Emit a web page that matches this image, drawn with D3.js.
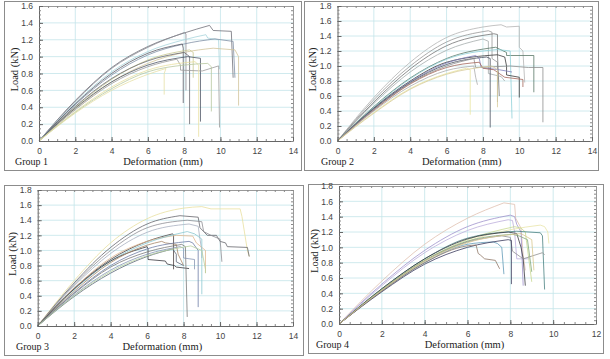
<!DOCTYPE html>
<html lang="en">
  <head>
    <meta charset="utf-8">
    <title>Load vs Deformation by Group</title>
    <script src="https://d3js.org/d3.v7.min.js"></script>
    <style>
      body { margin: 0; background: #fff; }
      .tick text { font-family: "Liberation Sans", Arial, sans-serif; font-size: 8.5px; fill: #444; }
      .title { font-family: "Liberation Serif", "Times New Roman", serif; font-size: 10.5px; fill: #222; }
    </style>
  </head>
  <body>
    <script type="text/javascript">
      var w = 610;
      var h = 359;

      // tick labels
      var xTicks14 = [0, 2, 4, 6, 8, 10, 12, 14];
      var xTicks12 = [0, 2, 4, 6, 8, 10, 12];
      var yTicks16 = [0, 0.2, 0.4, 0.6, 0.8, 1.0, 1.2, 1.4, 1.6];
      var yTicks18 = [0, 0.2, 0.4, 0.6, 0.8, 1.0, 1.2, 1.4, 1.6, 1.8];
      var groupNames = ["Group 1", "Group 2", "Group 3", "Group 4"];

      // specimens: [deformation (mm), load (kN)]
      var group1 = [
        [[0,0],[2,0.48],[4,0.87],[6,1.12],[8,1.28],[9.4,1.37],[9.6,1.31],[10.6,1.30],[10.7,0.75]],
        [[0,0],[2,0.47],[4,0.86],[6,1.11],[8.0,1.285],[8.1,1.27],[8.1,0.60]],
        [[0,0],[2,0.45],[4,0.82],[6,1.06],[8,1.20],[9.2,1.26],[9.3,1.22],[9.9,1.20],[9.95,0.85]],
        [[0,0],[2,0.43],[4,0.78],[6,1.02],[8,1.15],[9.7,1.21],[10.7,1.18],[10.8,0.75]],
        [[0,0],[2,0.44],[4,0.80],[6,1.04],[7.9,1.15],[7.95,1.10],[7.95,0.45]],
        [[0,0],[2,0.38],[4,0.70],[6,0.92],[8,1.05],[9.6,1.10],[10.8,1.08],[11.0,1.00],[11.0,0.42]],
        [[0,0],[2,0.40],[4,0.73],[6,0.96],[8.3,1.08],[8.5,1.05],[8.5,0.75]],
        [[0,0],[2,0.41],[4,0.74],[6,0.95],[8.0,1.05],[8.3,1.00],[8.3,0.20]],
        [[0,0],[2,0.39],[4,0.70],[6,0.90],[8.2,1.00],[8.9,0.98],[8.9,0.23]],
        [[0,0],[2,0.37],[4,0.68],[6,0.88],[7.6,0.97],[7.8,0.90],[7.8,0.84],[9.0,0.83],[9.9,0.89],[9.95,0.16]],
        [[0,0],[2,0.35],[4,0.64],[6,0.84],[8.6,0.94],[8.8,0.90],[8.8,0.05]],
        [[0,0],[2,0.34],[4,0.62],[6,0.82],[8,0.90],[9.3,0.92],[9.5,0.88],[9.5,0.35]],
        [[0,0],[2,0.33],[4,0.60],[6,0.79],[7.0,0.86],[6.9,0.80],[6.9,0.55]]
      ];
      var group2 = [
        [[0,0],[2,0.58],[4,1.05],[6,1.38],[8,1.52],[9.0,1.55],[9.3,1.52],[10.0,1.53],[10.0,1.25],[10.2,1.20],[10.3,0.78]],
        [[0,0],[2,0.55],[4,1.00],[6,1.32],[8.3,1.47],[8.5,1.45],[8.5,1.10],[8.8,1.05],[8.8,0.52]],
        [[0,0],[2,0.52],[4,0.96],[6,1.27],[8.6,1.43],[8.8,1.42],[8.8,1.15],[8.9,0.60]],
        [[0,0],[2,0.50],[4,0.92],[6,1.21],[8.0,1.36],[8.3,1.33],[8.3,0.90],[9.0,0.86],[9.2,0.80]],
        [[0,0],[2,0.46],[4,0.84],[6,1.10],[8.7,1.25],[9.3,1.18],[9.3,1.14],[10.8,1.14],[10.8,0.65]],
        [[0,0],[2,0.45],[4,0.83],[6,1.09],[8.8,1.22],[9.5,1.20],[9.6,0.30]],
        [[0,0],[2,0.44],[4,0.80],[6,1.05],[8.8,1.15],[9.2,1.12],[9.3,1.00],[9.3,0.88],[10.0,0.85],[10.0,0.58]],
        [[0,0],[2,0.43],[4,0.79],[6,1.04],[7.6,1.14],[7.8,1.10],[7.9,0.98],[8.9,0.95],[9.6,0.92]],
        [[0,0],[2,0.43],[4,0.78],[6,1.02],[8.2,1.12],[8.4,1.10],[8.4,0.18]],
        [[0,0],[2,0.42],[4,0.77],[6,1.00],[7.5,1.10],[7.6,0.98],[9.5,1.00],[10.5,0.98],[11.3,0.98],[11.3,0.25]],
        [[0,0],[2,0.41],[4,0.76],[6,0.98],[7.8,1.05],[8.0,0.97],[8.6,0.95],[9.2,0.85],[10.2,0.82],[10.2,0.72]],
        [[0,0],[2,0.38],[4,0.70],[6,0.90],[7.1,0.97],[7.3,0.95],[7.3,0.35]],
        [[0,0],[2,0.40],[4,0.73],[6,0.94],[7.5,1.00],[7.6,0.85],[7.7,0.75]],
        [[0,0],[2,0.37],[4,0.69],[6,0.89],[8.5,1.00],[8.8,0.95],[8.8,0.45]]
      ];
      var group3 = [
        [[0,0],[2,0.60],[4,1.10],[6,1.42],[8,1.56],[9.0,1.58],[9.5,1.55],[11.1,1.55],[11.2,1.45],[11.5,1.00],[11.6,0.92]],
        [[0,0],[2,0.57],[4,1.04],[6,1.35],[7.8,1.46],[8.8,1.44],[8.9,1.30],[9.3,1.20],[9.8,1.20],[10.0,1.12],[10.3,1.10],[10.4,1.05],[11.5,1.04],[11.6,0.92]],
        [[0,0],[2,0.55],[4,1.00],[6,1.30],[8.2,1.40],[9.0,1.38],[9.1,1.25],[9.5,1.20],[10.0,1.15],[10.1,0.85]],
        [[0,0],[2,0.53],[4,0.96],[6,1.24],[8.3,1.35],[8.8,1.32],[8.9,1.15],[9.0,1.00],[9.0,0.90]],
        [[0,0],[2,0.50],[4,0.88],[6,1.12],[7.4,1.22],[7.45,1.20],[7.45,0.75]],
        [[0,0],[2,0.50],[4,0.90],[6,1.12],[7.6,1.20],[8.5,1.19],[8.7,1.10],[9.2,1.00],[9.2,0.70]],
        [[0,0],[2,0.48],[4,0.86],[6,1.10],[8.2,1.25],[8.6,1.22],[9.0,1.15],[9.0,0.42]],
        [[0,0],[2,0.49],[4,0.86],[6.0,1.05],[6.05,1.02],[6.05,0.88],[7.0,0.86],[7.1,0.82],[7.5,0.80],[7.6,0.78],[8.3,0.76]],
        [[0,0],[2,0.46],[4,0.84],[6,1.07],[6.8,1.12],[7.0,1.10],[7.6,1.08],[7.7,0.95],[8.0,0.80]],
        [[0,0],[2,0.44],[4,0.80],[6,1.02],[8.3,1.12],[8.5,1.10],[8.8,1.00],[8.8,0.25]],
        [[0,0],[2,0.43],[4,0.78],[6,0.98],[7.9,1.08],[8.1,1.05],[8.2,0.12]],
        [[0,0],[2,0.41],[4,0.74],[6,0.95],[7.8,1.05],[8.0,1.03],[8.0,0.90],[8.6,0.88],[8.6,0.75]],
        [[0,0],[2,0.39],[4,0.70],[6,0.92],[7.4,1.02],[7.6,0.95],[7.6,0.85],[8.0,0.80]],
        [[0,0],[2,0.40],[4,0.72],[6,0.93],[8.4,1.06],[9.0,1.00],[9.2,0.75],[9.2,0.70]]
      ];
      var group4 = [
        [[0,0],[2,0.56],[4,1.04],[6,1.38],[7.7,1.58],[8.2,1.56],[8.25,1.38],[8.5,1.25],[8.6,0.90],[8.7,0.70]],
        [[0,0],[2,0.52],[4,0.96],[6,1.27],[8.0,1.42],[8.2,1.40],[8.3,1.30],[8.5,1.20],[8.6,0.50]],
        [[0,0],[2,0.50],[4,0.93],[6,1.22],[7.9,1.36],[8.1,1.35],[8.2,1.20],[8.3,0.85],[8.9,0.85]],
        [[0,0],[2,0.44],[4,0.82],[6,1.08],[8,1.23],[9.4,1.29],[9.6,1.27],[9.75,1.20],[9.8,1.05]],
        [[0,0],[2,0.45],[4,0.83],[6,1.10],[8.2,1.27],[8.5,1.25],[8.7,1.20],[9.0,0.55]],
        [[0,0],[2,0.46],[4,0.85],[6,1.12],[8.3,1.21],[9.4,1.19],[9.5,1.15],[9.6,0.45]],
        [[0,0],[2,0.46],[4,0.85],[6,1.11],[7.9,1.20],[8.3,1.18],[8.5,1.00],[8.6,0.85],[8.7,0.50]],
        [[0,0],[2,0.45],[4,0.83],[6,1.08],[8.1,1.17],[8.4,1.15],[8.8,1.10],[9.0,0.68]],
        [[0,0],[2,0.44],[4,0.82],[6,1.07],[7.6,1.15],[8.0,1.13],[8.1,0.95],[8.6,0.85],[9.5,0.93],[9.6,0.90]],
        [[0,0],[2,0.43],[4,0.80],[6,1.04],[7.2,1.07],[7.4,1.05],[7.6,1.00],[7.7,0.65]],
        [[0,0],[2,0.42],[4,0.78],[6,1.00],[7.9,1.10],[8.05,1.09],[8.05,0.52]],
        [[0,0],[2,0.43],[4,0.80],[6,1.02],[6.4,1.03],[6.5,0.92],[6.6,0.90],[6.8,0.85],[7.3,0.83],[7.5,0.72]],
        [[0,0],[2,0.44],[4,0.82],[6,1.06],[8.5,1.18],[9.0,1.10],[9.1,0.70]]
      ];

      // line colours per specimen
      var colors1 = ["#707078","#8c8c94","#a8d4dc","#8290a6","#5a5a64","#d2c49a","#c8c890","#68686e","#4e5666","#9a9a9a","#e8e0a0","#b8c8a0","#e6dfa6"];
      var colors2 = ["#b4b4b4","#979797","#747474","#a4acac","#5a7868","#8fd0d8","#3a3a3a","#8080bc","#4a5060","#8e8e8e","#a4665a","#e8e4a0","#acacac","#d8cc9c"];
      var colors3 = ["#e8e0a0","#66666c","#8e8e94","#a8b0c0","#4a4040","#e0b890","#8cc8d0","#38383f","#a88868","#6e7ea6","#7a7a7a","#8696b4","#5c6678","#b8d0a0"];
      var colors4 = ["#e0c0b0","#a092cc","#bcaedc","#e8e4a8","#c8d890","#4a8282","#38383f","#84a878","#909090","#629ab8","#3a3a5c","#907868","#d8c890"];

      var panels = [
        {box: [4, 1, 301, 170], plot: [39, 6, 293, 141], xTicks: xTicks14, yTicks: yTicks16, data: group1, colors: colors1, groupX: 15},
        {box: [304, 1, 598, 170], plot: [337.5, 6, 592, 141], xTicks: xTicks14, yTicks: yTicks18, data: group2, colors: colors2, groupX: 321},
        {box: [4, 185, 303, 355], plot: [37.7, 190, 293, 326], xTicks: xTicks14, yTicks: yTicks18, data: group3, colors: colors3, groupX: 16},
        {box: [308, 184, 603, 353], plot: [339, 186, 596, 324], xTicks: xTicks12, yTicks: yTicks18, data: group4, colors: colors4, groupX: 316}
      ];

      //Create SVG element
      var svg = d3.select("body")
        .append("svg")
        .attr("width", w)
        .attr("height", h);

      panels.forEach(function(p, k) {
        var xMax = p.xTicks[p.xTicks.length - 1];
        var yMax = p.yTicks[p.yTicks.length - 1];
        var xScale = d3.scaleLinear().domain([0, xMax]).range([p.plot[0], p.plot[2]]);
        var yScale = d3.scaleLinear().domain([0, yMax]).range([p.plot[3], p.plot[1]]);
        var g = svg.append("g");

        g.append("rect")
          .attr("x", p.box[0] + 0.5)
          .attr("y", p.box[1] + 0.5)
          .attr("width", p.box[2] - p.box[0])
          .attr("height", p.box[3] - p.box[1])
          .attr("fill", "#fff")
          .attr("stroke", "#8c8c8c");

        // grid
        g.selectAll(".vgrid")
          .data(p.xTicks.slice(1, -1))
          .enter()
          .append("line")
          .attr("x1", function(d) { return xScale(d); })
          .attr("x2", function(d) { return xScale(d); })
          .attr("y1", p.plot[1])
          .attr("y2", p.plot[3])
          .attr("stroke", "#c4e4ea")
          .attr("stroke-width", 0.8);
        g.selectAll(".hgrid")
          .data(p.yTicks.slice(1, -1))
          .enter()
          .append("line")
          .attr("y1", function(d) { return yScale(d); })
          .attr("y2", function(d) { return yScale(d); })
          .attr("x1", p.plot[0])
          .attr("x2", p.plot[2])
          .attr("stroke", "#c4e4ea")
          .attr("stroke-width", 0.8);

        // curves: smooth rising branch, straight steps after the peak
        var rise = d3.line()
          .x(function(d) { return xScale(d[0]); })
          .y(function(d) { return yScale(d[1]); })
          .curve(d3.curveMonotoneX);
        var tail = d3.line()
          .x(function(d) { return xScale(d[0]); })
          .y(function(d) { return yScale(d[1]); });

        p.data.forEach(function(c, i) {
          var top = d3.maxIndex(c, function(d) { return d[1]; });
          g.append("path")
            .attr("d", rise(c.slice(0, top + 1)) + tail(c.slice(top)).replace("M", "L"))
            .attr("fill", "none")
            .attr("stroke", p.colors[i % p.colors.length])
            .attr("stroke-width", 0.8);
        });

        // minor ticks on all four sides
        var minorX = d3.range(0, xMax * 2 + 1).map(function(i) { return i / 2; });
        var minorY = d3.range(0, Math.round(yMax * 20) + 1).map(function(i) { return i / 20; });
        var axes = [
          [d3.axisBottom(xScale).tickValues(minorX), "translate(0," + p.plot[3] + ")"],
          [d3.axisTop(xScale).tickValues(minorX), "translate(0," + p.plot[1] + ")"],
          [d3.axisLeft(yScale).tickValues(minorY), "translate(" + p.plot[0] + ",0)"],
          [d3.axisRight(yScale).tickValues(minorY), "translate(" + p.plot[2] + ",0)"]
        ];
        axes.forEach(function(a, j) {
          var ax = g.append("g")
            .attr("transform", a[1])
            .call(a[0].tickSizeInner(-2).tickSizeOuter(0).tickFormat(""));
          ax.selectAll("line").attr("stroke", "#888");
          ax.select(".domain").attr("stroke", j == 0 || j == 2 ? "#666" : "#999");
        });

        // major ticks with labels
        var xAxis = d3.axisBottom(xScale)
          .tickValues(p.xTicks)
          .tickSizeInner(-4)
          .tickSizeOuter(0)
          .tickPadding(7)
          .tickFormat(d3.format("d"));
        var yAxis = d3.axisLeft(yScale)
          .tickValues(p.yTicks)
          .tickSizeInner(-4)
          .tickSizeOuter(0)
          .tickPadding(6)
          .tickFormat(d3.format(".1f"));
        g.append("g")
          .attr("transform", "translate(0," + p.plot[3] + ")")
          .call(xAxis)
          .call(function(s) { s.select(".domain").remove(); s.selectAll("line").attr("stroke", "#666"); });
        g.append("g")
          .attr("transform", "translate(" + p.plot[0] + ",0)")
          .call(yAxis)
          .call(function(s) { s.select(".domain").remove(); s.selectAll("line").attr("stroke", "#666"); });

        // titles
        g.append("text")
          .attr("class", "title")
          .attr("x", (p.plot[0] + p.plot[2]) / 2 - 3)
          .attr("y", p.box[3] - 5)
          .attr("text-anchor", "middle")
          .text("Deformation (mm)");
        g.append("text")
          .attr("class", "title")
          .attr("transform", "translate(" + (p.plot[0] - 25) + "," + ((p.plot[1] + p.plot[3]) / 2 - 4) + ") rotate(-90)")
          .attr("dy", "0.35em")
          .attr("text-anchor", "middle")
          .text("Load (kN)");
        g.append("text")
          .attr("class", "title")
          .attr("x", p.groupX)
          .attr("y", p.box[3] - 5)
          .style("font-size", "10px")
          .text(groupNames[k]);
      });
    </script>
  </body>
</html>
